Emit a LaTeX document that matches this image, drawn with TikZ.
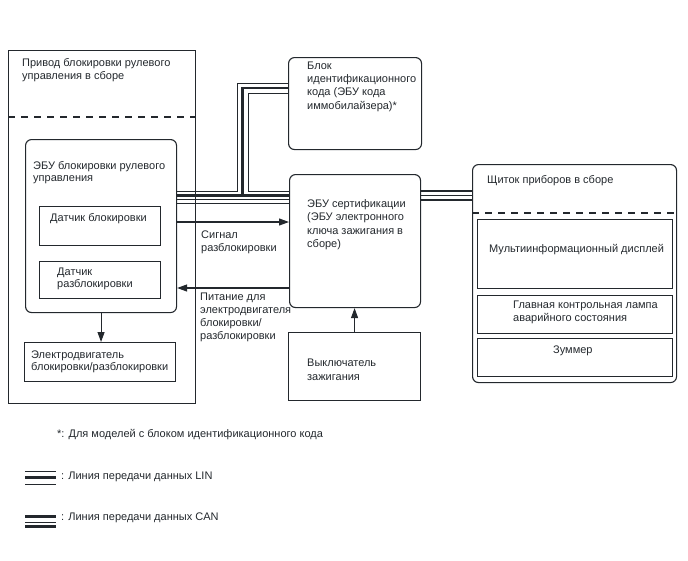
\documentclass[tikz,border=0pt]{standalone}
\usepackage{fontspec}
\setmainfont{Liberation Sans}
\usetikzlibrary{arrows.meta}
\definecolor{ink}{RGB}{35,40,45}
\begin{document}
\begin{tikzpicture}[x=1pt,y=-1pt,
  box/.style={draw=ink,line width=1.1pt,inner sep=0pt,anchor=north west},
  rbox/.style={box,rounded corners=6pt},
  txt/.style={anchor=north west,inner sep=0pt,align=left,font=\fontsize{11}{13}\selectfont,text=ink},
  arr/.style={draw=ink,line width=1.1pt,-{Triangle[length=10pt,width=7pt]}},
  busthin/.style={draw=ink,line width=0.9pt},
  busthick/.style={draw=ink,line width=2.5pt},
  divider/.style={draw=ink,line width=1.1pt,dash pattern=on 7pt off 6pt}]
\useasboundingbox (0,0) rectangle (688,560);

% Steering lock actuator assembly
\node[box,minimum width=187pt,minimum height=353pt] (act) at (8,50) {};
\draw[divider] (act.west |- 0,117) -- (act.east |- 0,117);
\node[txt,font=\fontsize{11}{12.3}\selectfont] (actt) at (22,58.5) {Привод блокировки рулевого\\управления в сборе};

\node[rbox,minimum width=151pt,minimum height=173pt] (ecu) at (25,139) {};
\node[txt,font=\fontsize{11}{12}\selectfont] (ecut) at (33,161.5) {ЭБУ блокировки рулевого\\управления};
\node[box,minimum width=121pt,minimum height=39pt] (s1) at (39,206) {};
\node[txt] (s1t) at (50,213.5) {Датчик блокировки};
\node[box,minimum width=121pt,minimum height=37pt] (s2) at (39,261) {};
\node[txt,font=\fontsize{11}{12}\selectfont] (s2t) at (57,267.5) {Датчик\\разблокировки};
\node[box,minimum width=151pt,minimum height=39pt] (mot) at (24,342) {};
\node[txt,font=\fontsize{11}{12}\selectfont] (mott) at (31,350.5) {Электродвигатель\\блокировки/разблокировки};

% ID code box
\node[rbox,minimum width=133pt,minimum height=92pt] (idb) at (288,57) {};
\node[txt,font=\fontsize{11}{13.3}\selectfont] (idbt) at (307,61.5) {Блок\\идентификационного\\кода (ЭБУ кода\\иммобилайзера)*};

% Certification ECU
\node[rbox,minimum width=131pt,minimum height=133pt] (cert) at (289,174) {};
\node[txt,font=\fontsize{11}{13.3}\selectfont] (certt) at (307,199.5) {ЭБУ сертификации\\(ЭБУ электронного\\ключа зажигания в\\сборе)};

% Ignition switch
\node[box,minimum width=132pt,minimum height=68pt] (ign) at (288,332) {};
\node[txt,font=\fontsize{11}{14}\selectfont] (ignt) at (307,358.5) {Выключатель\\зажигания};

% Combination meter
\node[rbox,minimum width=204pt,minimum height=218pt] (met) at (472,164) {};
\draw[divider] (met.west |- 0,213) -- (met.east |- 0,213);
\node[txt] (mett) at (487,175.5) {Щиток приборов в сборе};
\node[box,minimum width=195pt,minimum height=69pt] (mid) at (477,219) {};
\node[txt] (midt) at (489,244.5) {Мультиинформационный дисплей};
\node[box,minimum width=195pt,minimum height=38pt] (mwl) at (477,295) {};
\node[txt] (mwlt) at (513,300.5) {Главная контрольная лампа\\аварийного состояния};
\node[box,minimum width=195pt,minimum height=38pt] (buz) at (477,338) {};
\node[txt] (buzt) at (553,345.5) {Зуммер};

% Arrows
\draw[arr] (ecu.south) -- (ecu.south |- mot.north);
\draw[arr] (ecu.east |- 0,222) -- (cert.west |- 0,222);
\node[txt] (sigt) at (201,230.5) {Сигнал\\разблокировки};
\draw[arr] (cert.west |- 0,288) -- (ecu.east |- 0,288);
\node[txt] (powt) at (200,292.5) {Питание для\\электродвигателя\\блокировки/\\разблокировки};
\draw[arr] (ign.north) -- (ign.north |- cert.south);

% LIN bus
\draw[busthin] (ecu.east |- 0,191.5) -- (237,191.5) -- (237,83) -- (idb.west |- 0,83);
\draw[busthick] (ecu.east |- 0,195.5) -- (cert.west |- 0,195.5);
\draw[busthick] (242.5,195.5) -- (242.5,88) -- (idb.west |- 0,88);
\draw[busthin] (idb.west |- 0,93.5) -- (248,93.5) -- (248,191.5) -- (cert.west |- 0,191.5);
\draw[busthin] (ecu.east |- 0,199.5) -- (cert.west |- 0,199.5);
\draw[busthin] (ecu.east |- 0,203) -- (cert.west |- 0,203);

% CAN bus
\draw[busthick] (cert.east |- 0,191) -- (met.west |- 0,191);
\draw[busthin] (cert.east |- 0,195.5) -- (met.west |- 0,195.5);
\draw[busthick] (cert.east |- 0,200) -- (met.west |- 0,200);

% Legend
\node[txt] (fn) at (57,429.5) {*: Для моделей с блоком идентификационного кода};
\coordinate (lina) at (25,471);
\coordinate (linb) at (56,471);
\draw[busthin] (lina) -- (linb);
\draw[busthick] (25,477.5) -- (56,477.5);
\draw[busthin] (25,484) -- (56,484);
\node[txt] (lint) at (61,471.5) {: Линия передачи данных LIN};
\draw[busthick] (25,516.5) -- (56,516.5);
\draw[busthin] (25,522) -- (56,522);
\draw[busthick] (25,526.5) -- (56,526.5);
\node[txt] (cant) at (61,512.5) {: Линия передачи данных CAN};
\end{tikzpicture}
\end{document}
